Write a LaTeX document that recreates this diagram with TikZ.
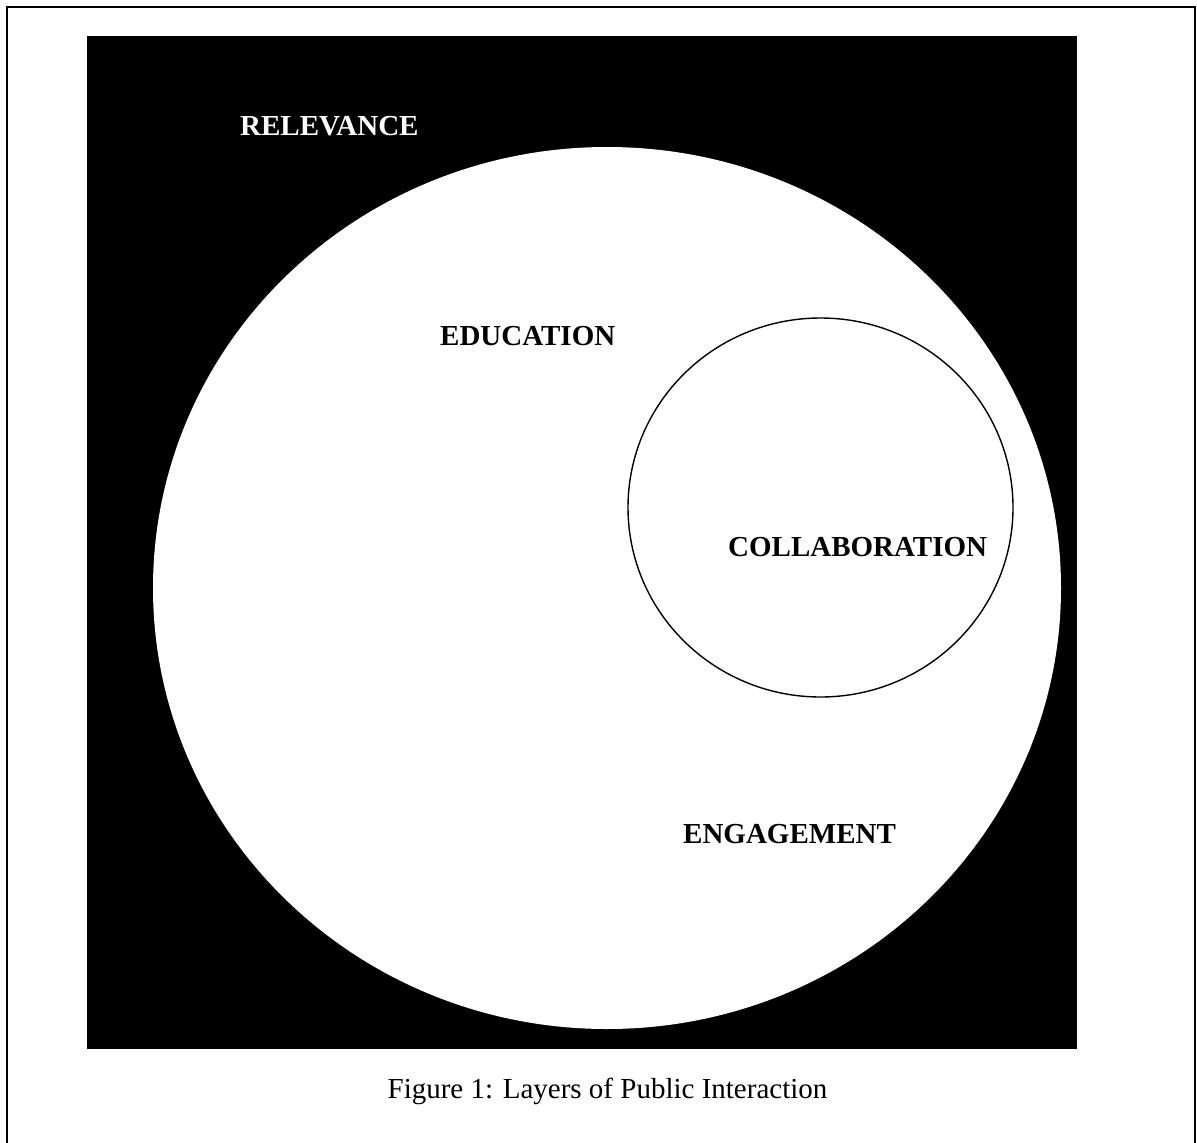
\documentclass[tikz,border=0pt]{standalone}
\usepackage{fontspec}
\setmainfont{Liberation Serif}
\usetikzlibrary{shapes.geometric}
\begin{document}
\begin{tikzpicture}[x=1pt,y=-1pt,
  lbl/.style={anchor=base west,inner sep=0pt,font=\fontsize{29}{35}\selectfont\bfseries},
  captiontext/.style={anchor=base,inner sep=0pt,font=\fontsize{29}{35}\selectfont}]
\useasboundingbox (0,0) rectangle (1197,1143);
% frame (open at the bottom)
\draw[line width=2pt] (7,1160) -- (7,7) -- (1195,7) -- (1195,1160);
% black field
\node[fill=black,draw=none,minimum width=990pt,minimum height=1013pt,inner sep=0pt,anchor=north west] (field) at (87,36) {};
% white ellipse
\node[ellipse,fill=white,draw=none,minimum width=908pt,minimum height=882pt,inner sep=0pt] (outer) at (607,588) {};
% inner circle
\node[ellipse,fill=white,draw=black,line width=1.4pt,minimum width=385pt,minimum height=379pt,inner sep=0pt] (inner) at (820.5,507.5) {};
% labels
\node[lbl,text=white] (relevance) at (240,135) {RELEVANCE};
\node[lbl] (education) at (440,345) {EDUCATION};
\node[lbl] (collab) at (728,556) {COLLABORATION};
\node[lbl] (engage) at (683,843) {ENGAGEMENT};
\node[captiontext] (caption) at (607.5,1098) {Figure 1: Layers of Public Interaction};
\end{tikzpicture}
\end{document}
